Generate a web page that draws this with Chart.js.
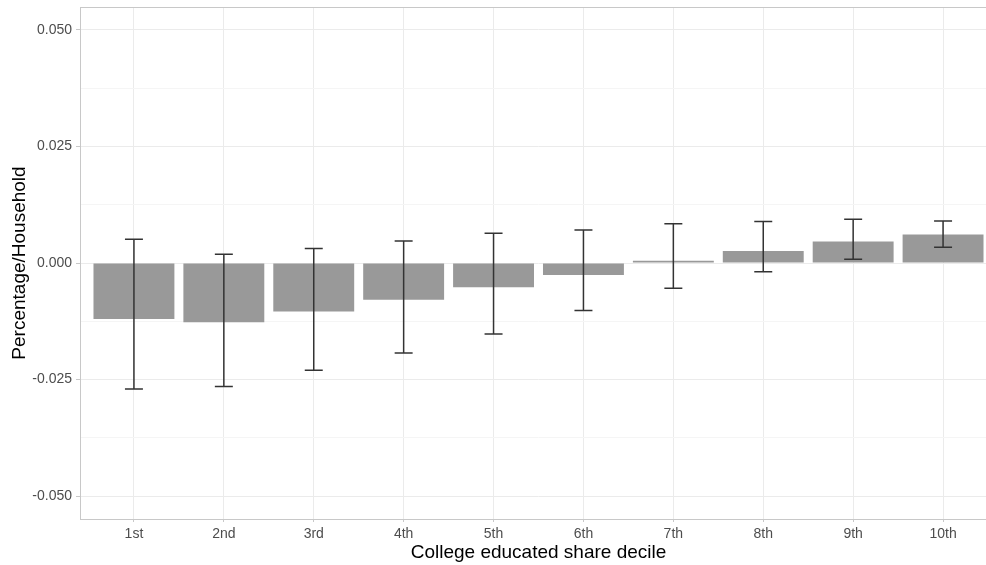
<!DOCTYPE html>
<html>
<head>
<meta charset="utf-8">
<script src="https://cdn.jsdelivr.net/npm/chart.js@4/dist/chart.umd.min.js"></script>
<style>
  html, body { margin: 0; padding: 0; background: #fff; overflow: hidden; }
  #wrap { width: 997px; height: 565px; }
</style>
</head>
<body>
<div id="wrap"><canvas id="decileChart"></canvas></div>
<script>
// Datos
const deciles = ['1st', '2nd', '3rd', '4th', '5th', '6th', '7th', '8th', '9th', '10th'];
const estimates = [-0.0120, -0.0127, -0.0104, -0.0079, -0.0052, -0.0026, 0.0005, 0.0026, 0.0046, 0.0061];
const ciUpper = [0.0051, 0.0019, 0.0031, 0.0047, 0.0064, 0.0071, 0.0084, 0.0089, 0.0094, 0.0090];
const ciLower = [-0.0270, -0.0265, -0.0230, -0.0193, -0.0152, -0.0102, -0.0054, -0.0019, 0.0008, 0.0034];
const yTicks = [-0.05, -0.0375, -0.025, -0.0125, 0, 0.0125, 0.025, 0.0375, 0.05];
const yMajor = [-0.05, -0.025, 0, 0.025, 0.05];

const isMajor = v => yMajor.some(m => Math.abs(m - v) < 1e-9);

// Barras de error y borde del panel
const errorBars = {
    id: 'errorBars',
    afterDatasetsDraw(chart) {
        const { ctx, scales: { x, y } } = chart;
        ctx.save();
        ctx.strokeStyle = '#333333';
        ctx.lineWidth = 1.5;
        deciles.forEach((d, i) => {
            const cx = x.getPixelForValue(i + 1);
            const x0 = x.getPixelForValue(i + 0.9);
            const x1 = x.getPixelForValue(i + 1.1);
            const yt = y.getPixelForValue(ciUpper[i]);
            const yb = y.getPixelForValue(ciLower[i]);
            ctx.beginPath();
            ctx.moveTo(cx, yt); ctx.lineTo(cx, yb);
            ctx.moveTo(x0, yt); ctx.lineTo(x1, yt);
            ctx.moveTo(x0, yb); ctx.lineTo(x1, yb);
            ctx.stroke();
        });
        ctx.restore();
    }
};

const panelBorder = {
    id: 'panelBorder',
    afterDraw(chart) {
        const { ctx, chartArea: a } = chart;
        ctx.save();
        ctx.strokeStyle = '#c8c8c8';
        ctx.lineWidth = 1;
        ctx.strokeRect(Math.round(a.left) + 0.5, Math.round(a.top) + 0.5,
            Math.round(a.right - a.left), Math.round(a.bottom - a.top));
        ctx.restore();
    }
};

const decileChart = new Chart(document.getElementById('decileChart'), {
    type: 'bar',
    data: {
        datasets: [{
            data: deciles.map((d, i) => ({ x: i + 1, y: estimates[i] })),
            backgroundColor: '#999999',
            barPercentage: 0.9,
            categoryPercentage: 1.0
        }]
    },
    options: {
        responsive: true,
        maintainAspectRatio: false,
        animation: false,
        layout: { padding: { top: 7, right: 0, left: 0, bottom: 0 } },
        plugins: { legend: { display: false }, tooltip: { enabled: false } },
        scales: {
            x: {
                type: 'linear',
                min: 0.4,
                max: 10.6,
                offset: false,
                afterBuildTicks: s => { s.ticks = deciles.map((d, i) => ({ value: i + 1 })); },
                afterFit: s => { s.height = 46; s.paddingLeft = 0; s.paddingRight = 0; },
                ticks: {
                    callback: v => deciles[Math.round(v) - 1] || '',
                    color: '#4d4d4d',
                    font: { family: 'Liberation Sans', size: 14 },
                    padding: 4,
                    maxRotation: 0,
                    autoSkip: false
                },
                grid: { offset: false, color: '#ebebeb', tickColor: '#c8c8c8', tickLength: 3 },
                border: { display: false },
                title: {
                    display: true,
                    text: 'College educated share decile',
                    color: '#000',
                    font: { family: 'Liberation Sans', size: 19 },
                    padding: { top: 0, bottom: 1 }
                }
            },
            y: {
                min: -0.0549,
                max: 0.0549,
                afterBuildTicks: s => { s.ticks = yTicks.map(v => ({ value: v })); },
                afterFit: s => { s.width = 80; s.paddingTop = 0; s.paddingBottom = 0; },
                ticks: {
                    callback: v => isMajor(v) ? v.toFixed(3) : '',
                    color: '#4d4d4d',
                    font: { family: 'Liberation Sans', size: 14 },
                    padding: 4
                },
                grid: {
                    color: c => isMajor(c.tick.value) ? '#ebebeb' : '#f5f5f5',
                    tickColor: c => isMajor(c.tick.value) ? '#c8c8c8' : 'rgba(0,0,0,0)',
                    tickLength: 4
                },
                border: { display: false },
                title: {
                    display: true,
                    text: 'Percentage/Household',
                    color: '#000',
                    font: { family: 'Liberation Sans', size: 19 },
                    padding: { top: 8, bottom: 0 }
                }
            }
        }
    },
    plugins: [errorBars, panelBorder]
});
</script>
</body>
</html>
